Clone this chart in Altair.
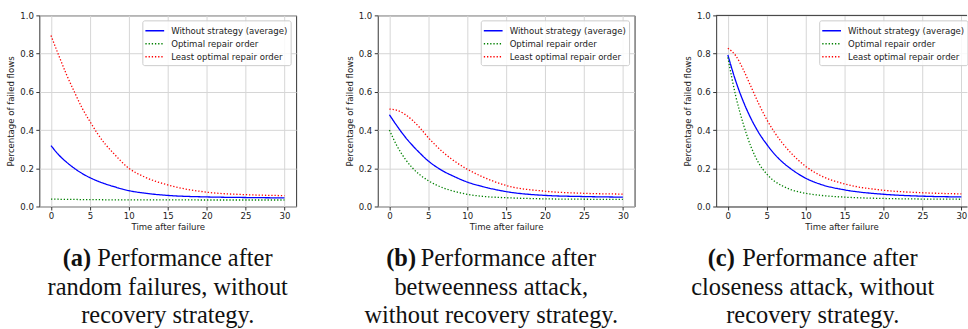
import altair as alt
import pandas as pd

# ---------------- data ----------------
times = [0, 1, 2, 3, 4, 5, 6, 7, 8, 10, 12, 15, 20, 25, 30]
series_names = ["Without strategy (average)", "Optimal repair order", "Least optimal repair order"]

a_without = [0.319, 0.27, 0.232, 0.2, 0.173, 0.151, 0.133, 0.118, 0.105, 0.083, 0.07, 0.058, 0.05, 0.047, 0.045]
a_optimal = [0.039, 0.038, 0.037, 0.037, 0.036, 0.036, 0.036, 0.035, 0.035, 0.035, 0.035, 0.035, 0.034, 0.034, 0.034]
a_least = [0.895, 0.79, 0.69, 0.6, 0.515, 0.445, 0.38, 0.325, 0.28, 0.2, 0.155, 0.113, 0.075, 0.062, 0.057]

b_without = [0.48, 0.42, 0.365, 0.318, 0.276, 0.238, 0.208, 0.183, 0.163, 0.128, 0.104, 0.078, 0.058, 0.052, 0.049]
b_optimal = [0.4, 0.315, 0.25, 0.2, 0.163, 0.135, 0.113, 0.096, 0.083, 0.064, 0.053, 0.046, 0.04, 0.038, 0.037]
b_least = [0.51, 0.503, 0.482, 0.45, 0.408, 0.36, 0.318, 0.28, 0.248, 0.195, 0.155, 0.11, 0.08, 0.069, 0.065]

c_without = [0.793, 0.658, 0.548, 0.458, 0.384, 0.325, 0.274, 0.233, 0.2, 0.148, 0.115, 0.087, 0.064, 0.054, 0.05]
c_optimal = [0.78, 0.58, 0.43, 0.31, 0.225, 0.17, 0.132, 0.108, 0.09, 0.069, 0.058, 0.049, 0.042, 0.039, 0.038]
c_least = [0.828, 0.79, 0.715, 0.625, 0.535, 0.455, 0.388, 0.332, 0.285, 0.21, 0.16, 0.118, 0.085, 0.072, 0.066]

x_ticks = [0, 5, 10, 15, 20, 25, 30]
y_ticks = [0.0, 0.2, 0.4, 0.6, 0.8, 1.0]

caption_tags = ["(a)", "(b)", "(c)"]
caption_first = ["Performance after", "Performance after", "Performance after"]
caption_second = ["random failures, without", "betweenness attack,", "closeness attack, without"]
caption_third = ["recovery strategy.", "without recovery strategy.", "recovery strategy."]

# ---------------- styling ----------------
COLORS = ["#0000ff", "#008000", "#ff0000"]
DASHES = [[1, 0], [1.3, 1.9], [1.3, 1.9]]
SANS = "DejaVu Sans"
SERIF = "Liberation Serif"
PH = 192
CAP_SIZE = 24.5
FRAME = "#333333"


def panel(i, without, optimal, least, cap_center, width, xmax, clipped=False):
    rows = []
    for name, vals in zip(series_names, [without, optimal, least]):
        for t, v in zip(times, vals):
            rows.append({"t": t, "v": v, "s": name})
    df = pd.DataFrame(rows)

    leg = alt.Legend(
        title=None, orient="none", legendX=103.5, legendY=5,
        symbolType="M-1.45,0H1.45", symbolSize=169, symbolStrokeWidth=1.5,
        symbolOffset=2,
        labelFont=SANS, labelFontSize=8.6, labelColor="#222222", labelOffset=9,
        fillColor="rgba(255,255,255,0.85)", strokeColor="#cccccc", cornerRadius=2,
        padding=3, rowPadding=0,
    )
    lines = alt.Chart(df).mark_line(interpolate="monotone", strokeWidth=1.3).encode(
        x=alt.X("t:Q", scale=alt.Scale(domain=[-1.5, xmax], nice=False, zero=False),
                axis=alt.Axis(values=x_ticks, title="Time after failure", format="d",
                              labelFlush=False, domain=clipped, domainColor=FRAME)),
        y=alt.Y("v:Q", scale=alt.Scale(domain=[0, 1], nice=False),
                axis=alt.Axis(values=y_ticks, format=".1f", title="Percentage of failed flows",
                              labelFlush=False, minExtent=19.5, maxExtent=19.5,
                              domain=clipped, domainColor=FRAME)),
        color=alt.Color("s:N", scale=alt.Scale(domain=series_names, range=COLORS), legend=leg),
        strokeDash=alt.StrokeDash("s:N", scale=alt.Scale(domain=series_names, range=DASHES), legend=leg),
    )

    left1 = cap_center - 105.5
    t1 = alt.Chart(pd.DataFrame({"c": [caption_tags[i]]})).mark_text(
        align="left", baseline="middle", font=SERIF, fontSize=CAP_SIZE, fontWeight="bold", color="#111111"
    ).encode(text="c:N", x=alt.value(left1), y=alt.value(245))
    t2 = alt.Chart(pd.DataFrame({"c": [caption_first[i]]})).mark_text(
        align="left", baseline="middle", font=SERIF, fontSize=CAP_SIZE, color="#111111"
    ).encode(text="c:N", x=alt.value(left1 + 34.7), y=alt.value(245))
    t3 = alt.Chart(pd.DataFrame({"c": [caption_second[i]]})).mark_text(
        align="center", baseline="middle", font=SERIF, fontSize=CAP_SIZE, color="#111111"
    ).encode(text="c:N", x=alt.value(cap_center), y=alt.value(274))
    t4 = alt.Chart(pd.DataFrame({"c": [caption_third[i]]})).mark_text(
        align="center", baseline="middle", font=SERIF, fontSize=CAP_SIZE, color="#111111"
    ).encode(text="c:N", x=alt.value(cap_center), y=alt.value(302))

    layers = [lines, t1, t2, t3, t4]
    if clipped:
        top = alt.Chart(pd.DataFrame({"c": [0]})).mark_rule(color=FRAME, strokeWidth=1).encode(
            x=alt.value(0), x2=alt.value(width), y=alt.value(0)
        )
        layers.append(top)
        return alt.layer(*layers).properties(width=width, height=PH,
                                             view=alt.ViewBackground(stroke=None))
    return alt.layer(*layers).properties(width=width, height=PH)


pa = panel(0, a_without, a_optimal, a_least, 129, 258, 31.5)
pb = panel(1, b_without, b_optimal, b_least, 114, 258, 31.5)
# the reference is cut at the right edge of the page: only up to t = 30.73 is visible
pc = panel(2, c_without, c_optimal, c_least, 97, 252, 30.73, clipped=True)

chart = alt.hconcat(pa, pb, pc, spacing=48).resolve_scale(
    color="independent", strokeDash="independent"
).resolve_legend(
    color="independent", strokeDash="independent"
).properties(
    padding={"left": 6.5, "top": 9.7, "right": 0, "bottom": 0},
    background="white",
).configure_view(
    stroke=FRAME, strokeWidth=1
).configure_axis(
    labelFont=SANS, labelFontSize=8.6, labelColor="#222222",
    titleFont=SANS, titleFontSize=8.6, titleColor="#222222", titleFontWeight="normal",
    gridColor="#d6d6d6", gridWidth=1, tickColor=FRAME, tickSize=3.5,
).configure_axisX(
    labelPadding=2, titlePadding=2,
).configure_axisY(
    labelPadding=2.5, titlePadding=4,
)

chart.save("out.html", embed_options={"renderer": "svg", "actions": False})
